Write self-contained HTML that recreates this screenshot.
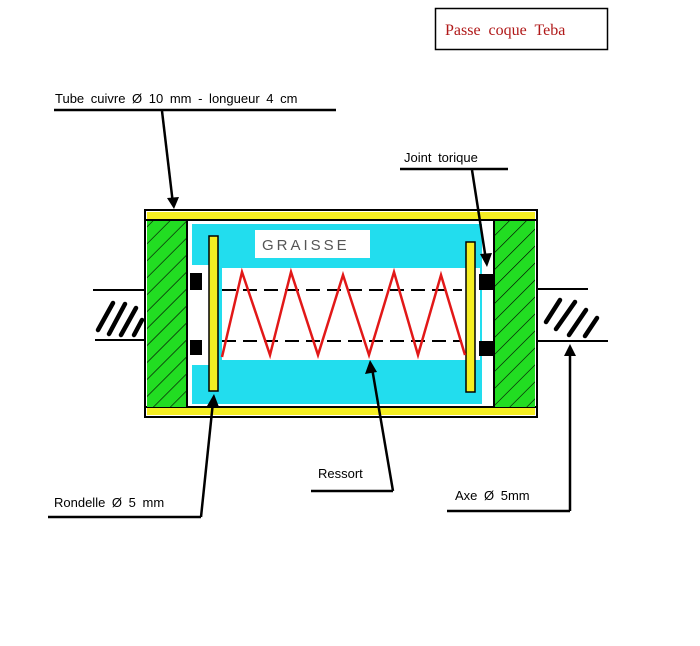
<!DOCTYPE html>
<html><head><meta charset="utf-8"><style>
body{margin:0;background:#fff;width:700px;height:646px;overflow:hidden}
svg{display:block}
text{font-family:"Liberation Sans",sans-serif;fill:#000}
</style></head><body>
<svg width="700" height="646" viewBox="0 0 700 646">
<defs>
<pattern id="h" width="12" height="12" patternUnits="userSpaceOnUse" patternTransform="rotate(45)">
<line x1="0" y1="0" x2="0" y2="12" stroke="#000" stroke-width="1.2"/>
</pattern>
</defs>
<!-- title -->
<rect x="435.5" y="8.5" width="172" height="41" fill="#fff" stroke="#000" stroke-width="1.5"/>
<text x="445" y="35" style="font-family:'Liberation Serif',serif;fill:#b01818;font-size:16px;word-spacing:4px">Passe coque Teba</text>
<!-- shafts -->
<g stroke="#000" stroke-width="4.5" stroke-linecap="round">
<line x1="98" y1="330" x2="113" y2="303"/>
<line x1="109" y1="334" x2="125" y2="304"/>
<line x1="121" y1="335" x2="136" y2="308"/>
<line x1="134" y1="335" x2="142" y2="320"/>
<line x1="546" y1="322" x2="560" y2="300"/>
<line x1="556" y1="329" x2="575" y2="302"/>
<line x1="569" y1="335" x2="586" y2="310"/>
<line x1="585" y1="336" x2="597" y2="318"/>
</g>
<line x1="93" y1="290" x2="145" y2="290" stroke="#000" stroke-width="2"/>
<line x1="95" y1="340" x2="145" y2="340" stroke="#000" stroke-width="2"/>
<line x1="537" y1="289" x2="588" y2="289" stroke="#000" stroke-width="2"/>
<line x1="537" y1="341" x2="608" y2="341" stroke="#000" stroke-width="2"/>
<!-- body -->
<rect x="145" y="210" width="392" height="207" fill="#fff" stroke="#000" stroke-width="2"/>
<rect x="147" y="212" width="388" height="7" fill="#f5ee22"/>
<rect x="147" y="408" width="388" height="7" fill="#f5ee22"/>
<line x1="146" y1="220" x2="536" y2="220" stroke="#000" stroke-width="2"/>
<line x1="146" y1="407" x2="536" y2="407" stroke="#000" stroke-width="2"/>
<rect x="147" y="221" width="39" height="186" fill="#22dd22"/>
<rect x="147" y="221" width="39" height="186" fill="url(#h)"/>
<rect x="495" y="221" width="40" height="186" fill="#22dd22"/>
<rect x="495" y="221" width="40" height="186" fill="url(#h)"/>
<line x1="187" y1="220" x2="187" y2="407" stroke="#000" stroke-width="2"/>
<line x1="494" y1="220" x2="494" y2="407" stroke="#000" stroke-width="2"/>
<!-- grease -->
<rect x="192" y="224" width="290" height="180" fill="#22ddee"/>
<rect x="222" y="268" width="258" height="92" fill="#fff"/>
<rect x="255" y="230" width="115" height="28" fill="#fff"/>
<text x="262" y="250" style="fill:#555;font-size:15px;letter-spacing:3px">GRAISSE</text>
<rect x="192" y="265" width="18" height="100" fill="#fff"/>
<!-- orings -->
<rect x="190" y="273" width="12" height="17" fill="#000"/>
<rect x="190" y="340" width="12" height="15" fill="#000"/>
<rect x="479" y="274" width="15" height="16" fill="#000"/>
<rect x="479" y="341" width="15" height="15" fill="#000"/>
<!-- washers -->
<rect x="209" y="236" width="9" height="155" fill="#f5ee22" stroke="#000" stroke-width="1.5"/>
<rect x="466" y="242" width="9" height="150" fill="#f5ee22" stroke="#000" stroke-width="1.5"/>
<!-- axis dashes -->
<line x1="222" y1="290" x2="462" y2="290" stroke="#000" stroke-width="2" stroke-dasharray="14,7"/>
<line x1="222" y1="341" x2="462" y2="341" stroke="#000" stroke-width="2" stroke-dasharray="14,7"/>
<!-- spring -->
<polyline points="222,357 242,272 270,355 291,272 318,355 343,275 369,355 394,272 418,355 441,275 465,355" fill="none" stroke="#e21818" stroke-width="2.5"/>
<!-- labels -->
<text x="55" y="103" style="font-size:13px;word-spacing:3px">Tube cuivre Ø 10 mm - longueur 4 cm</text>
<line x1="54" y1="110" x2="336" y2="110" stroke="#000" stroke-width="2.5"/>
<line x1="162" y1="111" x2="173" y2="204" stroke="#000" stroke-width="2.5"/>
<polygon points="167,198 179,197 174,209" fill="#000"/>
<text x="404" y="162" style="font-size:13px;word-spacing:3px">Joint torique</text>
<line x1="400" y1="169" x2="508" y2="169" stroke="#000" stroke-width="2.5"/>
<line x1="472" y1="170" x2="486" y2="260" stroke="#000" stroke-width="2.5"/>
<polygon points="480,254 492,253 487,267" fill="#000"/>
<text x="318" y="478" style="font-size:13px">Ressort</text>
<line x1="311" y1="491" x2="393" y2="491" stroke="#000" stroke-width="2.5"/>
<line x1="393" y1="491" x2="372" y2="368" stroke="#000" stroke-width="2.5"/>
<polygon points="365,374 377,372 370,360" fill="#000"/>
<text x="54" y="507" style="font-size:13px;word-spacing:3px">Rondelle Ø 5 mm</text>
<line x1="48" y1="517" x2="201" y2="517" stroke="#000" stroke-width="2.5"/>
<line x1="201" y1="517" x2="213" y2="402" stroke="#000" stroke-width="2.5"/>
<polygon points="207,406 219,407 214,394" fill="#000"/>
<text x="455" y="500" style="font-size:13px;word-spacing:3px">Axe Ø 5mm</text>
<line x1="447" y1="511" x2="570" y2="511" stroke="#000" stroke-width="2.5"/>
<line x1="570" y1="511" x2="570" y2="352" stroke="#000" stroke-width="2.5"/>
<polygon points="564,356 576,356 570,344" fill="#000"/>
</svg>
</body></html>
